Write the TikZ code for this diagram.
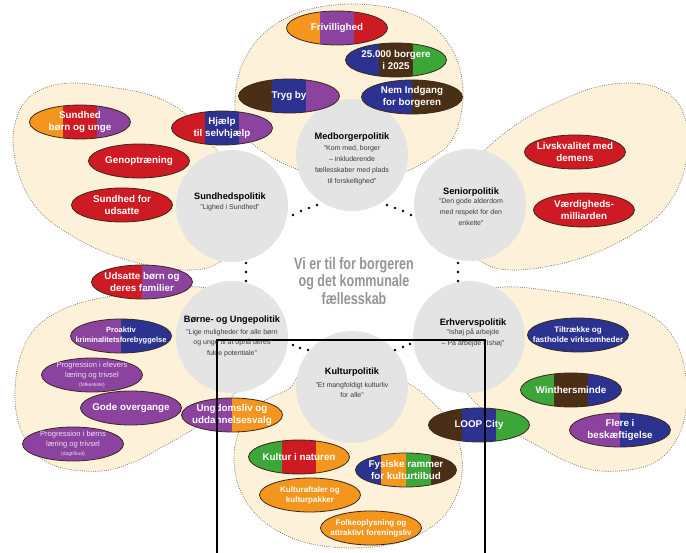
\documentclass[tikz,border=0pt]{standalone}
\usepackage{fontspec}
\setmainfont{Liberation Sans}
\newfontfamily\condfont[FakeStretch=0.76]{Liberation Sans}
\usetikzlibrary{shapes.geometric,calc}
\definecolor{orng}{HTML}{F4961E}
\definecolor{purp}{HTML}{8C43A0}
\definecolor{redc}{HTML}{CE1B23}
\definecolor{blu}{HTML}{2C3290}
\definecolor{brn}{HTML}{4B2E16}
\definecolor{grn}{HTML}{3DA638}
\definecolor{cream}{HTML}{FDF1D9}
\definecolor{hubgrey}{HTML}{E4E4E4}
\definecolor{dotc}{HTML}{6A6A6A}
\definecolor{pilledge}{HTML}{3A2818}
\definecolor{quotec}{HTML}{3C3C3C}
\definecolor{ctxtc}{HTML}{959595}
\definecolor{lightlav}{HTML}{EEDDF2}
\tikzset{
  petal/.style={fill=cream, draw=dotc, line width=1pt, dash pattern=on 0pt off 2.2pt, line cap=round},
  hub/.style={circle, fill=hubgrey, minimum size=112pt, inner sep=0pt},
  pillshape/.style={ellipse, draw=pilledge, line width=0.8pt, minimum width=101pt, minimum height=34pt, inner sep=0pt},
  stripes/.style 2 args={path picture={
    \foreach \c [count=\i] in {#2}{
      \fill[\c] let \p1=(path picture bounding box.south west), \p2=(path picture bounding box.north east) in
        ({\x1+(\i-1)*(\x2-\x1)/#1-0.2pt},{\y1-2pt}) rectangle ({\x1+\i*(\x2-\x1)/#1+0.2pt},{\y2+2pt});
    }}},
  ptxt/.style={text=white, font=\bfseries\fontsize{9.8}{12.3}\selectfont, align=center, inner sep=0pt},
  ptxts/.style={text=white, font=\bfseries\fontsize{8}{10}\selectfont, align=center, inner sep=0pt},
  ptxtxs/.style={text=white, font=\bfseries\fontsize{7.5}{10}\selectfont, align=center, inner sep=0pt},
  ptxtl/.style={text=lightlav, font=\fontsize{7.6}{9.7}\selectfont, align=center, inner sep=0pt},
  htitle/.style={font=\bfseries\fontsize{9.2}{11}\selectfont, text=black, inner sep=0pt},
  hquote/.style={font=\fontsize{7}{10.8}\selectfont, text=quotec, align=center, inner sep=0pt},
  ctext/.style={font=\condfont\bfseries\fontsize{16.5}{17.5}\selectfont, text=ctxtc, align=center, inner sep=0pt},
  sep dot/.style={fill=black}
}
\newcommand\pill[6]{%
  \node[pillshape, stripes={#3}{#4}] (#1) at (#2) {};
  \node[#5] (#1-t) at (#1.center) {#6};}
\begin{document}
\begin{tikzpicture}[x=1pt,y=-1pt]
\useasboundingbox (0,0) rectangle (686,553);
\fill[white] (0,0) rectangle (686,553);
% petals
\draw[petal] plot[smooth cycle, tension=0.6] coordinates {(235,110) (240,70) (262,35) (300,12) (350,4) (400,10) (435,28) (457,60) (463,100) (452,140) (425,162) (395,175) (352,182) (305,172) (268,155) (242,133)};
\draw[petal] plot[smooth cycle, tension=0.6] coordinates {(252,232) (244,180) (215,148) (183,112) (150,95) (109,87) (72,83) (42,89) (22,106) (13,138) (20,178) (40,212) (74,237) (112,255) (152,266) (192,270) (220,262)};
\draw[petal] plot[smooth cycle, tension=0.6] coordinates {(450,232) (458,180) (487,148) (520,122) (553,104) (593,88) (630,83) (660,89) (680,106) (688,138) (682,178) (662,212) (628,237) (590,255) (550,266) (510,270) (482,262)};
\draw[petal] plot[smooth cycle, tension=0.6] coordinates {(450,345) (468,298) (505,287) (560,292) (615,301) (650,315) (672,335) (684,365) (687,400) (681,430) (665,455) (640,468) (600,471) (568,462) (538,446) (510,430) (485,412) (462,385)};
\draw[petal] plot[smooth cycle, tension=0.6] coordinates {(252,345) (234,298) (197,287) (142,292) (87,301) (52,315) (30,335) (18,365) (15,400) (21,430) (37,455) (62,468) (102,471) (134,462) (164,446) (192,430) (217,412) (240,385)};
\draw[petal] plot[smooth cycle, tension=0.6] coordinates {(305,370) (290,388) (262,402) (242,425) (234,455) (240,490) (262,520) (300,541) (350,548) (400,542) (438,522) (458,492) (462,458) (452,425) (430,400) (405,382) (352,365)};
% hubs
\node[hub] (med) at (352,155) {};
\node[hub] (sund) at (232,206) {};
\node[hub] (sen) at (470,205) {};
\node[hub] (born) at (232,337) {};
\node[hub] (erh) at (469,337) {};
\node[hub] (kult) at (352,387) {};
\node[htitle] (med-h) at (352,137) {Medborgerpolitik};
\node[hquote] (med-q) at (352,165) {"Kom med, borger\\– inkluderende\\fællesskaber med plads\\til forskellighed"};
\node[htitle] (sund-h) at (230,197) {Sundhedspolitik};
\node[hquote] (sund-q) at (230,208) {"Lighed i Sundhed"};
\node[htitle] (sen-h) at (471,192) {Seniorpolitik};
\node[hquote] (sen-q) at (471,212) {"Den gode alderdom\\med respekt for den\\enkelte"};
\node[htitle] (born-h) at (232,320) {Børne- og Ungepolitik};
\node[hquote] (born-q) at (232,343) {"Lige muligheder for alle børn\\og unge til at opnå deres\\fulde potentiale"};
\node[htitle] (erh-h) at (473,323) {Erhvervspolitik};
\node[hquote] (erh-q) at (473,338) {"Ishøj på arbejde\\– På arbejde i Ishøj"};
\node[htitle] (kult-h) at (352,372) {Kulturpolitik};
\node[hquote] (kult-q) at (352,390) {"Et mangfoldigt kulturliv\\for alle"};
\node[ctext] (center) at (354,281) {Vi er til for borgeren\\og det kommunale\\fællesskab};
% pills
\pill{friv}{337,28}{3}{orng,purp,redc}{ptxt}{Frivillighed}
\pill{b25}{396,60}{3}{blu,brn,grn}{ptxt}{25.000 borgere\\i 2025}
\pill{tryg}{289,96}{3}{brn,blu,purp}{ptxt}{Tryg by}
\pill{nem}{412,97}{2}{blu,brn}{ptxt}{Nem Indgang\\for borgeren}
\pill{sbu}{80,122}{3}{orng,redc,purp}{ptxt}{Sundhed\\børn og unge}
\pill{hjaelp}{222,128}{3}{redc,blu,purp}{ptxt}{Hjælp\\til selvhjælp}
\pill{genop}{139,161}{1}{redc}{ptxt}{Genoptræning}
\pill{sfu}{122,205}{1}{redc}{ptxt}{Sundhed for\\udsatte}
\pill{udsatte}{142,282}{2}{redc,purp}{ptxt}{Udsatte børn og\\deres familier}
\pill{proak}{121,336}{2}{purp,blu}{ptxtxs}{Proaktiv\\kriminalitetsforebyggelse}
\pill{progel}{92,375}{1}{purp}{ptxtl}{Progression i elevers\\læring og trivsel\\{\fontsize{5}{6}\selectfont (folkeskole)}}
\pill{gode}{131,408}{1}{purp}{ptxt}{Gode overgange}
\pill{progb}{73,444}{1}{purp}{ptxtl}{Progression i børns\\læring og trivsel\\{\fontsize{5}{6}\selectfont (dagtilbud)}}
\pill{ungdom}{232,415}{2}{purp,orng}{ptxt}{Ungdomsliv og\\uddannelsesvalg}
\pill{livs}{575,152}{1}{redc}{ptxt}{Livskvalitet med\\demens}
\pill{vaerd}{584,210}{1}{redc}{ptxt}{Værdigheds-\\milliarden}
\pill{tiltr}{578,335}{1}{blu}{ptxts}{Tiltrække og\\fastholde virksomheder}
\pill{winth}{571,390}{3}{grn,brn,blu}{ptxt}{Winthersminde}
\pill{flere}{620,430}{2}{purp,blu}{ptxt}{Flere i\\beskæftigelse}
\pill{loop}{479,425}{3}{brn,blu,grn}{ptxt}{LOOP City}
\pill{kultn}{299,457}{3}{grn,redc,orng}{ptxt}{Kultur i naturen}
\pill{fysisk}{406,470}{4}{blu,orng,grn,brn}{ptxt}{Fysiske rammer\\for kulturtilbud}
\pill{kaft}{310,495}{1}{orng}{ptxts}{Kulturaftaler og\\kulturpakker}
\pill{folk}{371,528}{1}{orng}{ptxts}{Folkeoplysning og\\attraktivt foreningsliv}
% separator dots
\foreach \p in {(293,215),(301,211),(309,208),(317,205),(387,205),(395,208),(403,211),(411,215),(246,263),(246,272),(246,281),(458,263),(458,272),(458,281),(293,345),(300,348),(308,350),(395,350),(403,347),(410,344)}
  \fill[sep dot] \p circle (1.4pt);
% frame
\coordinate (fr-bl) at (217,553);
\coordinate (fr-tl) at (217,340);
\coordinate (fr-tr) at (485,340);
\coordinate (fr-br) at (485,553);
\draw[line width=1.6pt, line join=miter] (fr-bl) -- (fr-tl) -- (fr-tr) -- (fr-br);
\end{tikzpicture}
\end{document}
